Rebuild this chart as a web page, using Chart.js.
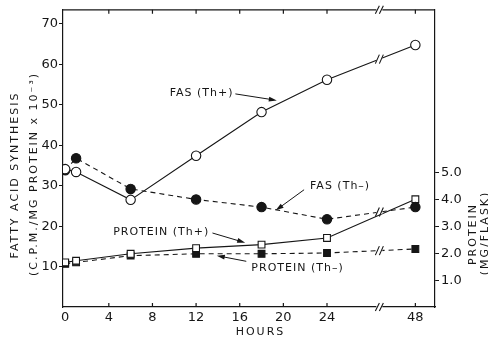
<!DOCTYPE html>
<html>
<head>
<meta charset="utf-8">
<script src="https://cdn.jsdelivr.net/npm/chart.js@4.4.1/dist/chart.umd.min.js"></script>
<style>
html, body { margin: 0; padding: 0; background: #fff; }
#wrap { width: 488px; height: 339px; position: relative; }
</style>
</head>
<body>
<div id="wrap"><canvas id="FasChart"></canvas></div>
<script>
var hours = [0, 1, 6, 12, 18, 24, 48];
var fasThPlus = [34.1, 33.4, 26.5, 37.4, 48.2, 56.2, 64.8];
var fasThMinus = [33.8, 36.8, 29.2, 26.6, 24.7, 21.7, 24.7];
var proteinThPlus = [1.66, 1.72, 1.98, 2.19, 2.32, 2.57, 4.01];
var proteinThMinus = [1.61, 1.66, 1.91, 1.98, 1.98, 2.01, 2.16];

var hourTicks = [0, 4, 8, 12, 16, 20, 24, 48];
var fasTicks = [10, 20, 30, 40, 50, 60, 70];
var proteinTicks = [1, 2, 3, 4, 5];

// text labels with arrows, in (hour position, FAS value) units
var notes = [
    {text: 'FAS (Th+)', x: 12.5, y: 52.9, from: [15.6, 52.7], to: [19.4, 51.1]},
    {text: 'FAS (Th\u2013)', x: 25.2, y: 29.8, from: [21.9, 29.0], to: [19.3, 23.9]},
    {text: 'PROTEIN (Th+)', x: 8.8, y: 18.5, from: [13.5, 18.3], to: [16.5, 15.9]},
    {text: 'PROTEIN (Th\u2013)', x: 21.3, y: 9.7, from: [16.6, 11.3], to: [13.9, 12.7]}
];

// everything after 24 h is squeezed behind the axis break
var breakPos = 28.8;
function toAxis(h) { return h <= 24 ? h : 24 + (h - 24) * 8.1 / 24; }
function fromAxis(v) { return v <= 24 ? v : 24 + (v - 24) * 24 / 8.1; }

function points(values) {
    return values.map((v, i) => ({x: toAxis(hours[i]), y: v}));
}

var ink = '#161616';
var font = '"DejaVu Sans", sans-serif';

function slashes(ctx, x, y, h) {
    ctx.save();
    ctx.fillStyle = '#fff';
    ctx.fillRect(x - 3, y - 2, 6, 4);
    ctx.strokeStyle = ink;
    ctx.lineWidth = 1.1;
    ctx.beginPath();
    [-2, 2].forEach(dx => {
        ctx.moveTo(x + dx - 2, y + h / 2);
        ctx.lineTo(x + dx + 2, y - h / 2);
    });
    ctx.stroke();
    ctx.restore();
}

function arrow(ctx, x1, y1, x2, y2) {
    let a = Math.atan2(y2 - y1, x2 - x1);
    ctx.beginPath();
    ctx.moveTo(x1, y1);
    ctx.lineTo(x2 - 6 * Math.cos(a), y2 - 6 * Math.sin(a));
    ctx.stroke();
    ctx.beginPath();
    ctx.moveTo(x2, y2);
    ctx.lineTo(x2 - 8 * Math.cos(a) + 2.5 * Math.sin(a), y2 - 8 * Math.sin(a) - 2.5 * Math.cos(a));
    ctx.lineTo(x2 - 8 * Math.cos(a) - 2.5 * Math.sin(a), y2 - 8 * Math.sin(a) + 2.5 * Math.cos(a));
    ctx.closePath();
    ctx.fill();
}

var plugins = [{
    afterDraw: chart => {
        let ctx = chart.ctx;
        let xs = chart.scales.x, ys = chart.scales.y;
        let area = chart.chartArea;
        let bx = xs.getPixelForValue(breakPos);
        ctx.save();
        ctx.strokeStyle = ink;
        ctx.fillStyle = ink;
        ctx.lineWidth = 1.2;

        // top frame line
        ctx.beginPath();
        ctx.moveTo(area.left, area.top);
        ctx.lineTo(area.right, area.top);
        ctx.stroke();

        // inward tick marks on top and bottom
        ctx.beginPath();
        hourTicks.slice(1).forEach(h => {
            let px = xs.getPixelForValue(toAxis(h));
            ctx.moveTo(px, area.bottom);
            ctx.lineTo(px, area.bottom - 4);
            ctx.moveTo(px, area.top);
            ctx.lineTo(px, area.top + 4);
        });
        ctx.stroke();

        // axis breaks
        slashes(ctx, bx, area.top, 8);
        slashes(ctx, bx, area.bottom, 8);
        [0, 1, 3].forEach(i => {
            let pts = chart.getDatasetMeta(i).data;
            let p = pts[5], q = pts[6];
            let y = p.y + (q.y - p.y) * (bx - p.x) / (q.x - p.x);
            slashes(ctx, bx, y, 9);
        });

        // notes and arrows
        ctx.lineWidth = 1;
        ctx.font = '11px ' + font;
        ctx.letterSpacing = '1px';
        ctx.textAlign = 'center';
        ctx.textBaseline = 'middle';
        notes.forEach(n => {
            ctx.fillText(n.text, xs.getPixelForValue(n.x), ys.getPixelForValue(n.y));
            arrow(ctx, xs.getPixelForValue(n.from[0]), ys.getPixelForValue(n.from[1]),
                xs.getPixelForValue(n.to[0]), ys.getPixelForValue(n.to[1]));
        });

        // axis titles
        ctx.letterSpacing = '2px';
        ctx.fillText('HOURS', xs.getPixelForValue(17.9), area.bottom + 25);
        let titles = [
            [15, 175, 'FATTY ACID SYNTHESIS'],
            [34, 174, '(C.P.M./MG PROTEIN x 10\u207B\u00B3)'],
            [473, 234, 'PROTEIN'],
            [485, 233, '(MG/FLASK)']
        ];
        titles.forEach(t => {
            ctx.save();
            ctx.translate(t[0], t[1]);
            ctx.rotate(-Math.PI / 2);
            ctx.fillText(t[2], 0, 0);
            ctx.restore();
        });
        ctx.restore();
    }
}];

var tickFont = {family: font, size: 13};

var options = {
    responsive: true,
    maintainAspectRatio: false,
    animation: false,
    layout: {padding: {top: 9, left: 0, right: 0, bottom: 0}},
    plugins: {legend: {display: false}, tooltip: {enabled: false}},
    scales: {
        x: {
            type: 'linear',
            min: -0.2,
            max: 33.9,
            afterBuildTicks: scale => { scale.ticks = hourTicks.map(h => ({value: toAxis(h)})); },
            afterFit: scale => { scale.height = 32; },
            grid: {display: true, drawOnChartArea: false, drawTicks: false},
            border: {display: true, color: ink, width: 1.2},
            ticks: {color: ink, font: tickFont, padding: 3, maxRotation: 0,
                callback: v => Math.round(fromAxis(v))}
        },
        y: {
            position: 'left',
            min: 0,
            max: 73.5,
            afterBuildTicks: scale => { scale.ticks = fasTicks.map(v => ({value: v})); },
            afterFit: scale => { scale.width = 63; },
            grid: {drawOnChartArea: false, drawTicks: true, tickLength: 4, color: ink},
            border: {display: true, color: ink, width: 1.2},
            ticks: {color: ink, font: tickFont, padding: 1}
        },
        y2: {
            position: 'right',
            min: 0,
            max: 11.06,
            afterBuildTicks: scale => { scale.ticks = proteinTicks.map(v => ({value: v})); },
            afterFit: scale => { scale.width = 53; },
            grid: {drawOnChartArea: false, drawTicks: true, tickLength: 4, color: ink},
            border: {display: true, color: ink, width: 1.2},
            ticks: {color: ink, font: tickFont, padding: 2, callback: v => v.toFixed(1)}
        }
    }
};

function series(data, axis, dashed, shape, filled) {
    return {
        data: data,
        yAxisID: axis,
        borderColor: ink,
        borderWidth: 1.1,
        borderDash: dashed ? [5, 4] : [],
        pointStyle: shape,
        pointRadius: shape === 'rect' ? 4.8 : 4.7,
        pointBorderWidth: 1.1,
        pointBorderColor: ink,
        pointBackgroundColor: filled ? ink : '#fff',
        tension: 0,
        fill: false
    };
}

new Chart(document.getElementById('FasChart'), {
    type: 'line',
    options: options,
    plugins: plugins,
    data: {
        datasets: [
            series(points(fasThPlus), 'y', false, 'circle', false),
            series(points(fasThMinus), 'y', true, 'circle', true),
            series(points(proteinThPlus), 'y2', false, 'rect', false),
            series(points(proteinThMinus), 'y2', true, 'rect', true)
        ]
    }
});
</script>
</body>
</html>
